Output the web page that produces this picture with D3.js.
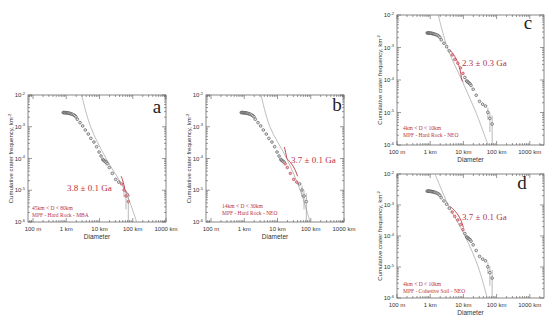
<!DOCTYPE html>
<html><head><meta charset="utf-8">
<script src="https://cdn.jsdelivr.net/npm/d3@7"></script>
<style>body{margin:0;background:#fff} svg{display:block}</style>
</head><body>
<svg id="chart" width="550" height="325"></svg>
<script>
// ---- data ----
const craterD = [0.81,0.85,0.89,0.93,0.98,1.03,1.08,1.14,1.20,1.27,1.35,1.44,1.55,1.68,1.82,1.96,2.15,2.59,3.12,3.74,4.6,5.5,6.8,8.2,9.7,11.1,12.5,13.2,14.0,14.9,15.9,17.0,19.7,24.3,30.7,38.0,46.5,54.6,62.7,73.5];
const craterN = [2.80e-3,2.80e-3,2.79e-3,2.78e-3,2.77e-3,2.75e-3,2.73e-3,2.70e-3,2.67e-3,2.63e-3,2.58e-3,2.52e-3,2.45e-3,2.35e-3,2.22e-3,2.05e-3,1.72e-3,1.35e-3,1.06e-3,7.9e-4,5.9e-4,4.3e-4,3.3e-4,2.35e-4,1.6e-4,1.2e-4,9.4e-5,8.9e-5,8.4e-5,8.0e-5,7.6e-5,6.8e-5,5.2e-5,3.4e-5,2.2e-5,1.8e-5,1.58e-5,1.02e-5,6.6e-6,4.4e-6];
const errD  = [54.6, 62.7, 73.5];
const errLo = [6.0e-6, 2.5e-6, 1e-8];
const errHi = [1.4e-5, 1.0e-5, 8.0e-6];
const isoN = [1e-2, 1e-3, 1e-4, 1e-5, 1e-6];
const isoA = [2.9, 5.4, 15.7, 58, 131];
const isoB = [3.2, 5.9, 18.9, 48, 96];
const isoC = [1.75, 3.27, 8.9, 24, 55];
const isoDd = [1.4, 3.5, 11.2, 28, 52];
const fitRanges = [[45, 80], [16, 40], [4, 10], [4, 10]];
const panelLetters = ["a", "b", "c", "d"];
const ages = ["3.8 \u00b1 0.1 Ga", "3.7 \u00b1 0.1 Ga", "2.3 \u00b1 0.3 Ga", "3.7 \u00b1 0.1 Ga"];
const rangeLabels = ["45km < D < 80km", "14km < D < 30km", "4km < D < 10km", "4km < D < 10km"];
const modelLabels = ["MPF - Hard Rock - MBA", "MPF - Hard Rock - NEO", "MPF - Hard Rock - NEO", "MPF - Cohesive Soil - NEO"];
const xTickValues = [0.1, 1, 10, 100, 1000];
const xTickLabels = ["100 m", "1 km", "10 km", "100 km", "1000 km"];
const yTickValues = [1e-2, 1e-3, 1e-4, 1e-5, 1e-6];
const yTickExps = ["-2", "-3", "-4", "-5", "-6"];
const xTitle = "Diameter";
const yTitle = "Cumulative crater frequency, km";

// ---- layout ----
const isochrons = [isoA, isoB, isoC, isoDd];
const layouts = [
  {L: 28, R: 166, T: 95, B: 222, xd: [0.0707, 1000], age: [67, 188], rng: [32, 208], letter: [157, 113]},
  {L: 206, R: 344, T: 95, B: 222, xd: [0.0707, 1000], age: [291, 160], rng: [222, 206], letter: [337, 111]},
  {L: 397, R: 544, T: 15, B: 145, xd: [0.1, 2680], age: [462, 63], rng: [403, 128], letter: [528, 29]},
  {L: 397, R: 544, T: 174, B: 298, xd: [0.1, 2680], age: [462, 217], rng: [403, 284], letter: [522, 189]}
];
const red = "#b8323f";
const axisCol = "#555";
const svg = d3.select("#chart");

layouts.forEach((lay, i) => {
  const x = d3.scaleLog().domain(lay.xd).range([lay.L, lay.R]);
  const y = d3.scaleLog().domain([1e-6, 1e-2]).range([lay.B, lay.T]);
  const g = svg.append("g");
  const clipId = "clip" + i;
  g.append("clipPath").attr("id", clipId).append("rect")
    .attr("x", lay.L).attr("y", lay.T).attr("width", lay.R - lay.L).attr("height", lay.B - lay.T);

  // frame
  g.append("rect").attr("x", lay.L).attr("y", lay.T).attr("width", lay.R - lay.L).attr("height", lay.B - lay.T)
    .attr("fill", "none").attr("stroke", axisCol).attr("stroke-width", 0.7);

  // ticks (all four sides, inward)
  const xMinor = [];
  for (let e = -2; e <= 4; e++) for (let m = 1; m < 10; m++) {
    const v = m * Math.pow(10, e);
    if (v >= lay.xd[0] && v <= lay.xd[1]) xMinor.push({v, major: m === 1});
  }
  const yMinor = [];
  for (let e = -6; e <= -3; e++) for (let m = 1; m < 10; m++) yMinor.push({v: m * Math.pow(10, e), major: m === 1});
  yMinor.push({v: 1e-2, major: true});
  xMinor.forEach(t => {
    const len = t.major ? 4 : 2;
    const px = x(t.v);
    g.append("line").attr("x1", px).attr("x2", px).attr("y1", lay.B).attr("y2", lay.B - len).attr("stroke", axisCol).attr("stroke-width", 0.6);
    g.append("line").attr("x1", px).attr("x2", px).attr("y1", lay.T).attr("y2", lay.T + len).attr("stroke", axisCol).attr("stroke-width", 0.6);
  });
  yMinor.forEach(t => {
    const len = t.major ? 4 : 2;
    const py = y(t.v);
    g.append("line").attr("y1", py).attr("y2", py).attr("x1", lay.L).attr("x2", lay.L + len).attr("stroke", axisCol).attr("stroke-width", 0.6);
    g.append("line").attr("y1", py).attr("y2", py).attr("x1", lay.R).attr("x2", lay.R - len).attr("stroke", axisCol).attr("stroke-width", 0.6);
  });

  // tick labels
  xTickValues.forEach((v, k) => {
    g.append("text").attr("x", x(v)).attr("y", lay.B + 9).attr("text-anchor", "middle")
      .attr("font-family", "Liberation Sans, Arial, sans-serif").attr("font-size", 6).attr("fill", "#333").text(xTickLabels[k]);
  });
  yTickValues.forEach((v, k) => {
    const t = g.append("text").attr("x", lay.L - 3).attr("y", y(v) + 2).attr("text-anchor", "end")
      .attr("font-family", "Liberation Sans, Arial, sans-serif").attr("font-size", 6).attr("fill", "#333");
    t.append("tspan").text("10");
    t.append("tspan").attr("dy", -2.5).attr("font-size", 4).text(yTickExps[k]);
  });
  // axis titles
  g.append("text").attr("x", (lay.L + lay.R) / 2).attr("y", lay.B + 17).attr("text-anchor", "middle")
    .attr("font-family", "Liberation Sans, Arial, sans-serif").attr("font-size", 6.5).attr("fill", "#333").text(xTitle);
  const yt = g.append("text").attr("transform", `translate(${lay.L - 15},${(lay.T + lay.B) / 2}) rotate(-90)`)
    .attr("text-anchor", "middle").attr("font-family", "Liberation Sans, Arial, sans-serif").attr("font-size", 6).attr("fill", "#333");
  yt.append("tspan").text(yTitle);
  yt.append("tspan").attr("dy", -2).attr("font-size", 4).text("-2");

  const plot = g.append("g").attr("clip-path", `url(#${clipId})`);
  // isochron
  const iso = isochrons[i].map((d, k) => [d, isoN[k]]);
  const line = d3.line().x(d => x(d[0])).y(d => y(d[1])).curve(d3.curveCatmullRom.alpha(0.5));
  plot.append("path").attr("d", line(iso)).attr("fill", "none").attr("stroke", "#a0a0a0").attr("stroke-width", 0.7);

  // error bars
  errD.forEach((dd, k) => {
    plot.append("line").attr("x1", x(dd)).attr("x2", x(dd)).attr("y1", y(errHi[k])).attr("y2", y(errLo[k]))
      .attr("stroke", "#8a8a8a").attr("stroke-width", 0.6);
  });

  // data
  const fr = fitRanges[i];
  const pts = craterD.map((d, k) => ({d, n: craterN[k], fit: d >= fr[0] && d <= fr[1]}));
  plot.selectAll("circle.p").data(pts.filter(p => !p.fit)).join("circle")
    .attr("cx", p => x(p.d)).attr("cy", p => y(p.n)).attr("r", 1.35)
    .attr("fill", "#e4e4e4").attr("stroke", "#444").attr("stroke-width", 0.6);
  // fit segment of isochron, red
  const fitIso = [];
  const isoFn = d3.scaleLog().domain(isochrons[i]).range(isoN);
  for (let k = 0; k <= 20; k++) {
    const dv = Math.exp(Math.log(fr[0]) + (Math.log(fr[1]) - Math.log(fr[0])) * k / 20);
    fitIso.push([dv, isoFn(dv)]);
  }
  plot.append("path").attr("d", d3.line().x(d => x(d[0])).y(d => y(d[1]))(fitIso))
    .attr("fill", "none").attr("stroke", red).attr("stroke-width", 0.9);
  plot.selectAll("circle.f").data(pts.filter(p => p.fit)).join("circle")
    .attr("cx", p => x(p.d)).attr("cy", p => y(p.n)).attr("r", 1.3)
    .attr("fill", "#eeb0b5").attr("stroke", red).attr("stroke-width", 0.6);

  // texts
  g.append("text").attr("x", lay.age[0]).attr("y", lay.age[1] + 3).attr("font-family", "Liberation Serif, Times New Roman, serif")
    .attr("font-size", 9).attr("fill", red).text(ages[i]);
  g.append("text").attr("x", lay.rng[0]).attr("y", lay.rng[1] + 2).attr("font-family", "Liberation Serif, Times New Roman, serif")
    .attr("font-size", 5.5).attr("fill", red).text(rangeLabels[i]);
  g.append("text").attr("x", lay.rng[0]).attr("y", lay.rng[1] + 9).attr("font-family", "Liberation Serif, Times New Roman, serif")
    .attr("font-size", 5.5).attr("fill", red).text(modelLabels[i]);
  g.append("text").attr("x", lay.letter[0]).attr("y", lay.letter[1]).attr("text-anchor", "middle")
    .attr("font-family", "Liberation Serif, Times New Roman, serif").attr("font-size", 19).attr("fill", "#222").text(panelLetters[i]);
});
</script>
</body></html>
